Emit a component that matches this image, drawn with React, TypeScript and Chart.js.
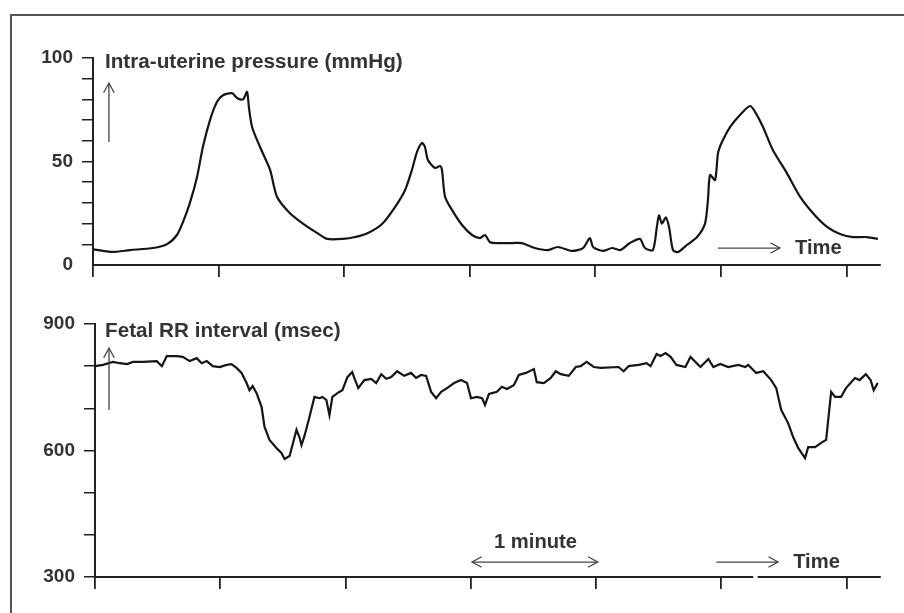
import { useEffect, useRef } from "react";
import { Chart, registerables } from "chart.js";

Chart.register(...registerables);

// ---- Data (time in seconds) ----
const IUP_TIME = [0, 9.1, 17.7, 28.7, 35.4, 40.1, 43.0, 46.3, 49.7, 52.5, 55.9, 59.2, 62.1, 66.4, 68.8, 71.7, 73.6, 74.5, 76.0, 79.8, 84.6, 87.9, 94.1, 100.3, 107.0, 111.8, 119.4, 125.2, 131.4, 138.1, 144.3, 149.0, 152.4, 154.8, 157.2, 158.6, 160.0, 163.4, 165.8, 166.7, 168.2, 171.5, 176.3, 181.1, 184.9, 187.3, 189.7, 195.4, 200.2, 204.9, 211.1, 217.4, 222.1, 228.8, 234.1, 237.4, 238.9, 243.6, 248.0, 251.8, 256.5, 261.3, 263.7, 267.5, 269.4, 270.4, 271.8, 273.7, 275.2, 277.1, 279.5, 283.8, 288.6, 292.4, 293.8, 294.8, 297.2, 298.6, 300.5, 304.4, 309.1, 313.9, 316.3, 320.1, 324.8, 331.5, 337.8, 344.0, 350.7, 356.9, 363.1, 369.8, 375.0];
const IUP_MMHG = [7.6, 6.3, 7.2, 8.2, 10.1, 14.5, 20.8, 30, 42.5, 57, 70, 78.7, 82, 83, 80.7, 80, 83.6, 76, 66.7, 57, 46, 33, 25, 20, 15.5, 12.6, 12.6, 13.5, 15.5, 19.8, 28, 36, 46, 54.6, 59, 57, 50.7, 46.9, 47.8, 46, 33, 26.6, 19.3, 14.5, 13, 14.5, 11, 10.6, 10.6, 10.6, 8.2, 7.2, 8.7, 6.8, 8.2, 13, 8.7, 6.8, 8.2, 7.2, 10.6, 12.6, 8.2, 7.2, 18.4, 24, 20, 23, 18.4, 7.2, 6.3, 9.7, 13.5, 20, 31.4, 43.5, 41, 54, 59.4, 66.7, 72.5, 76.8, 74, 66.7, 55.6, 44.4, 33, 25, 18.4, 15, 13.5, 13.5, 12.6];

const RR_TIME = [0, 3.8, 8.6, 11.9, 15.3, 18.2, 22.9, 29.6, 32.0, 34.4, 39.2, 42.0, 45.4, 48.7, 51.1, 53.5, 56.4, 59.7, 63.1, 65.4, 67.8, 70.2, 72.6, 74.0, 75.5, 77.4, 79.8, 81.2, 83.6, 86.9, 89.3, 90.8, 93.2, 94.6, 96.5, 97.9, 98.9, 100.3, 102.7, 105.1, 107.5, 108.9, 110.8, 112.3, 113.7, 116.1, 118.5, 120.9, 123.2, 124.2, 126.1, 129.0, 132.3, 134.7, 137.1, 139.5, 141.9, 144.7, 148.1, 151.4, 153.8, 156.2, 158.6, 161.0, 163.4, 165.8, 168.6, 172.0, 175.3, 178.2, 180.1, 182.9, 185.4, 186.8, 188.7, 192.5, 194.9, 197.3, 200.6, 203.0, 206.4, 210.2, 211.6, 215.0, 218.3, 220.7, 223.1, 226.9, 230.3, 232.6, 235.5, 238.9, 242.2, 250.8, 253.2, 255.6, 260.4, 264.2, 266.1, 269.0, 270.9, 273.3, 275.7, 278.5, 282.8, 285.2, 290.0, 293.8, 296.2, 299.5, 303.3, 308.1, 311.5, 312.9, 316.7, 320.1, 323.9, 326.3, 328.7, 332.0, 334.4, 336.8, 340.1, 341.6, 344.9, 347.8, 350.2, 352.6, 354.5, 357.3, 359.7, 364.0, 366.2, 369.2, 371.5, 373.0, 374.9];
const RR_MSEC = [800, 803, 810, 807, 805, 810, 810, 812, 800, 824, 824, 822, 812, 819, 807, 812, 800, 798, 803, 805, 796, 784, 760, 743, 753, 736, 703, 656, 625, 606, 594, 580, 587, 613, 649, 632, 613, 634, 679, 727, 724, 727, 720, 684, 727, 736, 743, 774, 786, 772, 748, 767, 770, 760, 781, 770, 774, 788, 777, 784, 772, 779, 777, 739, 724, 739, 748, 760, 767, 760, 724, 727, 724, 708, 734, 739, 751, 746, 755, 779, 784, 793, 762, 760, 772, 788, 781, 777, 798, 800, 810, 798, 796, 798, 788, 800, 803, 807, 800, 829, 824, 831, 822, 803, 798, 822, 798, 817, 798, 805, 798, 803, 798, 803, 784, 788, 767, 748, 696, 665, 632, 606, 582, 608, 608, 618, 625, 739, 727, 727, 748, 772, 767, 781, 767, 743, 760];

const X_MAX = 376;
const X_TICKS = [0, 60, 120, 180, 240, 300, 360];
const IUP_TICKS = [0, 10, 20, 30, 40, 50, 60, 70, 80, 90, 100];
const IUP_LABELS = [0, 50, 100];
const RR_TICKS = [300, 400, 500, 600, 700, 800, 900];
const RR_LABELS = [300, 600, 900];

const FONT = '"Liberation Sans", Arial, Helvetica, sans-serif';
const TEXT = "#333";
const INK = "#151515";

type Arrow = { x1: number; y1: number; x2: number; y2: number; both?: boolean };
type Label = { text: string; x: number; y: number; align: CanvasTextAlign; size: number };
type Gap = { x1: number; x2: number };

function head(ctx: CanvasRenderingContext2D, tx: number, ty: number, ang: number) {
  const L = 11, W = 0.5;
  ctx.beginPath();
  ctx.moveTo(tx - L * Math.cos(ang - W), ty - L * Math.sin(ang - W));
  ctx.lineTo(tx, ty);
  ctx.lineTo(tx - L * Math.cos(ang + W), ty - L * Math.sin(ang + W));
  ctx.stroke();
}

function annotPlugin(labels: Label[], arrows: Arrow[], gaps: Gap[]) {
  return {
    id: "annot",
    afterDraw(chart: any) {
      const ctx: CanvasRenderingContext2D = chart.ctx;
      const xs = chart.scales.x, ys = chart.scales.y;
      ctx.save();
      ctx.fillStyle = "#fff";
      for (const g of gaps) {
        const a = xs.getPixelForValue(g.x1), b = xs.getPixelForValue(g.x2);
        ctx.fillRect(a, chart.chartArea.bottom - 3, b - a, 6);
      }
      ctx.strokeStyle = "#444";
      ctx.lineWidth = 1.3;
      for (const ar of arrows) {
        const x1 = xs.getPixelForValue(ar.x1), y1 = ys.getPixelForValue(ar.y1);
        const x2 = xs.getPixelForValue(ar.x2), y2 = ys.getPixelForValue(ar.y2);
        ctx.beginPath();
        ctx.moveTo(x1, y1);
        ctx.lineTo(x2, y2);
        ctx.stroke();
        const ang = Math.atan2(y2 - y1, x2 - x1);
        head(ctx, x2, y2, ang);
        if (ar.both) head(ctx, x1, y1, ang + Math.PI);
      }
      ctx.fillStyle = TEXT;
      ctx.textBaseline = "middle";
      for (const l of labels) {
        ctx.font = `bold ${l.size}px ${FONT}`;
        ctx.textAlign = l.align;
        ctx.fillText(l.text, xs.getPixelForValue(l.x), ys.getPixelForValue(l.y));
      }
      ctx.restore();
    },
  };
}

function makeConfig(
  times: number[], values: number[], yMin: number, yMax: number,
  yTicks: number[], yLabels: number[], padding: any, tension: number,
  hideZeroTick: boolean, plugin: any
): any {
  return {
    type: "line",
    data: {
      datasets: [{
        data: times.map((t, i) => ({ x: t, y: values[i] })),
        borderColor: INK,
        borderWidth: 2.2,
        pointRadius: 0,
        tension,
        fill: false,
      }],
    },
    options: {
      responsive: false,
      animation: false,
      layout: { padding },
      plugins: { legend: { display: false }, tooltip: { enabled: false } },
      scales: {
        x: {
          type: "linear",
          min: 0,
          max: X_MAX,
          afterBuildTicks: (s: any) => { s.ticks = X_TICKS.map((v) => ({ value: v })); },
          afterFit: (s: any) => { s.height = 20; },
          ticks: { display: false },
          grid: { drawOnChartArea: false, drawTicks: true, tickLength: 12, color: "#222", lineWidth: 1.8 },
          border: { display: true, color: "#222", width: 2 },
        },
        y: {
          min: yMin,
          max: yMax,
          afterBuildTicks: (s: any) => { s.ticks = yTicks.map((v) => ({ value: v })); },
          afterFit: (s: any) => { s.width = 83; },
          ticks: {
            autoSkip: false,
            padding: 9,
            color: TEXT,
            font: { family: FONT, size: 19, weight: "bold" },
            callback: (v: any) => (yLabels.includes(Number(v)) ? String(v) : ""),
          },
          grid: {
            drawOnChartArea: false,
            drawTicks: true,
            tickLength: 11,
            color: (c: any) => (hideZeroTick && c.tick && c.tick.value === yMin ? "rgba(0,0,0,0)" : "#222"),
            lineWidth: 1.5,
          },
          border: { display: true, color: "#222", width: 2 },
        },
      },
    },
    plugins: [plugin],
  };
}

export default function App() {
  const topRef = useRef<HTMLCanvasElement>(null);
  const botRef = useRef<HTMLCanvasElement>(null);

  useEffect(() => {
    const top = new Chart(
      topRef.current!,
      makeConfig(
        IUP_TIME, IUP_MMHG, 0, 100, IUP_TICKS, IUP_LABELS,
        { left: 10, right: 24, top: 58, bottom: 15 }, 0.25, true,
        annotPlugin(
          [
            { text: "Intra-uterine pressure (mmHg)", x: 5.7, y: 98, align: "left", size: 20.7 },
            { text: "Time", x: 335.4, y: 8.0, align: "left", size: 20.2 },
          ],
          [
            { x1: 7.6, y1: 59.4, x2: 7.6, y2: 87.9 },
            { x1: 298.6, y1: 8.2, x2: 328.2, y2: 8.2 },
          ],
          []
        )
      )
    );
    const bot = new Chart(
      botRef.current!,
      makeConfig(
        RR_TIME, RR_MSEC, 300, 900, RR_TICKS, RR_LABELS,
        { left: 12, right: 24, top: 24, bottom: 16 }, 0, false,
        annotPlugin(
          [
            { text: "Fetal RR interval (msec)", x: 4.8, y: 883, align: "left", size: 20.7 },
            { text: "1 minute", x: 211, y: 383, align: "center", size: 20.2 },
            { text: "Time", x: 334.4, y: 335.5, align: "left", size: 20.2 },
          ],
          [
            { x1: 6.7, y1: 696, x2: 6.7, y2: 843 },
            { x1: 180.6, y1: 335.5, x2: 240.8, y2: 335.5, both: true },
            { x1: 297.6, y1: 335.5, x2: 327.2, y2: 335.5 },
          ],
          [{ x1: 315.3, x2: 317.4 }]
        )
      )
    );
    return () => {
      top.destroy();
      bot.destroy();
    };
  }, []);

  return (
    <div style={{ position: "absolute", left: 0, top: 0, width: 904, height: 613, background: "#fff", overflow: "hidden" }}>
      <div style={{ position: "absolute", left: 10, top: 14, width: 900, height: 610, borderTop: "2px solid #555", borderLeft: "2px solid #555" }} />
      <canvas ref={topRef} width={904} height={300} style={{ position: "absolute", left: 0, top: 0, width: 904, height: 300 }} />
      <canvas ref={botRef} width={904} height={313} style={{ position: "absolute", left: 0, top: 300, width: 904, height: 313 }} />
    </div>
  );
}
